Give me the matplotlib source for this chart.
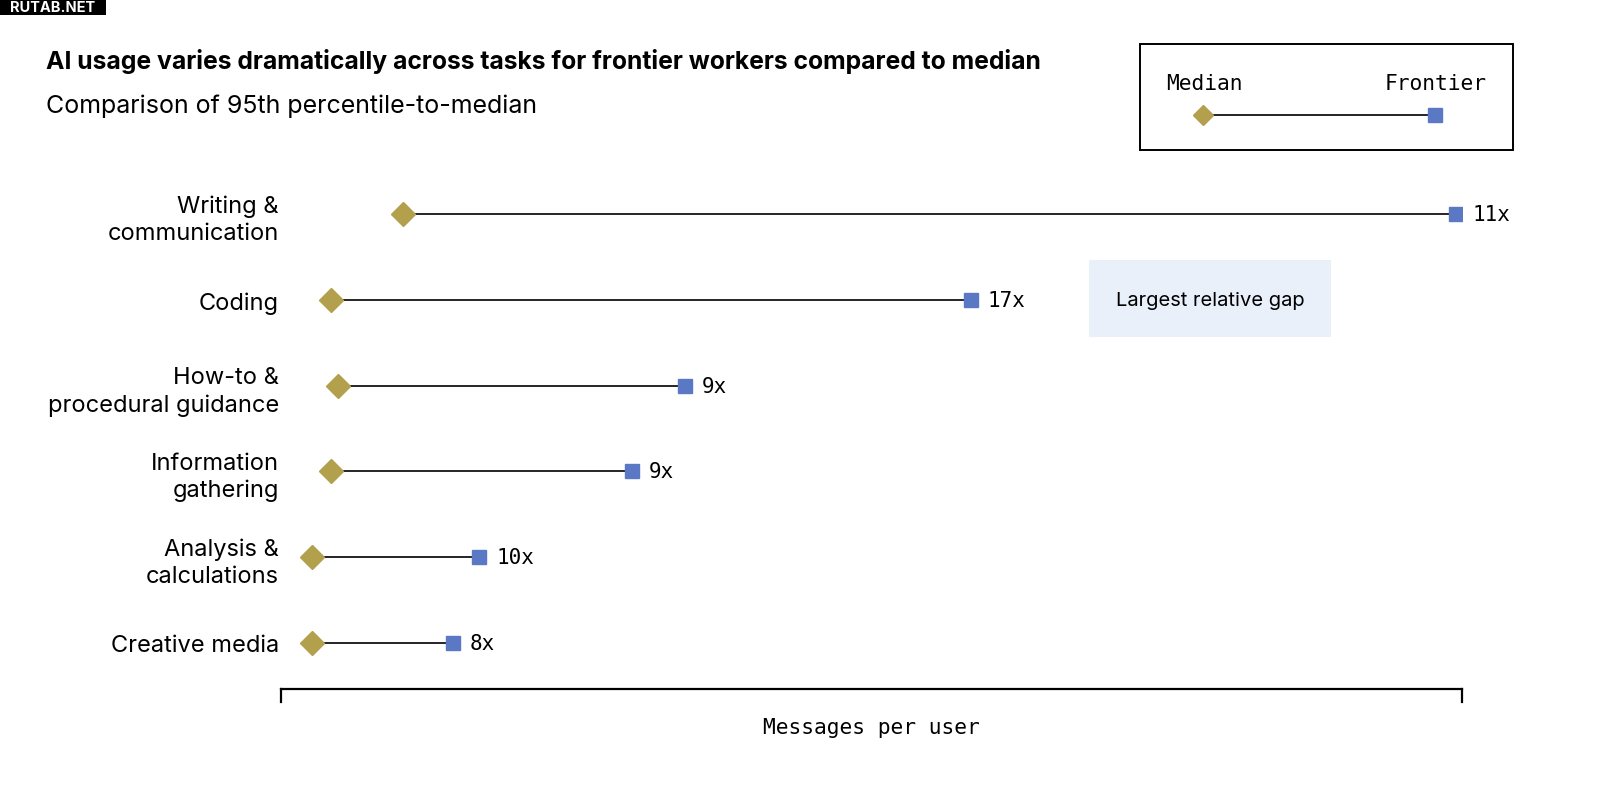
import matplotlib
matplotlib.use("Agg")
import matplotlib.pyplot as plt
from matplotlib.patches import Rectangle

categories = ["Writing &\ncommunication", "Coding", "How-to &\nprocedural guidance",
              "Information\ngathering", "Analysis &\ncalculations", "Creative media"]
median_vals = [10.3, 4.2, 4.8, 4.2, 2.6, 2.6]
frontier_vals = [99.5, 58.4, 34.2, 29.7, 16.8, 14.6]
ratio_labels = ["11x", "17x", "9x", "9x", "10x", "8x"]

GOLD = "#B3A04C"
BLUE = "#5A78C4"
SANS = "Inter"
MONO = "DejaVu Sans Mono"

W, H = 1606, 804
fig = plt.figure(figsize=(W / 100, H / 100), dpi=100)

def fx(px):
    return px / W

def fy(py):
    return 1 - py / H

ax = fig.add_axes([fx(281), fy(690), fx(1462) - fx(281), fy(171) - fy(690)])
ax.set_xlim(0, 100)
n = len(categories)
ys = list(range(n))
row0, rowstep = 215, 85.8
top_px, bot_px = 171, 690
y_top = -(row0 - top_px) / rowstep
y_bot = (bot_px - row0) / rowstep
ax.set_ylim(y_bot, y_top)

for i, (m, f, lab) in enumerate(zip(median_vals, frontier_vals, ratio_labels)):
    ax.plot([m, f], [i, i], color="black", lw=1.2, zorder=1)
    ax.plot([m], [i], marker="D", ms=12.5, color=GOLD, mec=GOLD, zorder=3, linestyle="none")
    ax.plot([f], [i], marker="s", ms=9.5, color=BLUE, mec=BLUE, zorder=3, linestyle="none")
    ax.annotate(lab, (f, i), xytext=(12, 0), textcoords="offset points",
                va="center", ha="left", fontsize=15, family=MONO, color="black")

ax.set_yticks(ys)
ax.set_yticklabels(categories, fontsize=17, family=SANS, linespacing=1.3)
ax.tick_params(axis="y", length=0, pad=1.5)
ax.set_xticks([])
for s in ["top", "right", "left", "bottom"]:
    ax.spines[s].set_visible(False)
ax.patch.set_alpha(0)

# bracket axis
fig.add_artist(plt.Line2D([fx(281), fx(1462)], [fy(690), fy(690)], color="black", lw=1.6,
                          transform=fig.transFigure))
for xp in (281, 1462):
    fig.add_artist(plt.Line2D([fx(xp), fx(xp)], [fy(690), fy(703)], color="black", lw=1.6,
                              transform=fig.transFigure))
fig.text(fx(871), fy(728), "Messages per user", ha="center", va="center",
         fontsize=15.3, family=MONO)

# title and subtitle
fig.text(fx(46), fy(62), "AI usage varies dramatically across tasks for frontier workers compared to median",
         ha="left", va="center", fontsize=17.8, fontweight="bold", family=SANS)
fig.text(fx(46), fy(106), "Comparison of 95th percentile-to-median",
         ha="left", va="center", fontsize=18, family=SANS)

# legend box
fig.add_artist(Rectangle((fx(1140), fy(151)), fx(1513) - fx(1140), fy(45) - fy(151),
                         transform=fig.transFigure, fill=False, ec="black", lw=1.4))
fig.text(fx(1204), fy(84), "Median", ha="center", va="center", fontsize=15.3, family=MONO)
fig.text(fx(1436), fy(84), "Frontier", ha="center", va="center", fontsize=15.3, family=MONO)
fig.add_artist(plt.Line2D([fx(1203), fx(1435)], [fy(116), fy(116)], color="black", lw=1.2,
                          transform=fig.transFigure, zorder=1))
fig.add_artist(plt.Line2D([fx(1203)], [fy(116)], marker="D", ms=10, color=GOLD, mec=GOLD,
                          transform=fig.transFigure, linestyle="none"))
fig.add_artist(plt.Line2D([fx(1435)], [fy(116)], marker="s", ms=9.5, color=BLUE, mec=BLUE,
                          transform=fig.transFigure, linestyle="none"))

# highlight box
fig.add_artist(Rectangle((fx(1089), fy(338)), fx(1331) - fx(1089), fy(261) - fy(338),
                         transform=fig.transFigure, fc="#EAF0FA", ec="none"))
fig.text(fx(1210), fy(301), "Largest relative gap", ha="center", va="center",
         fontsize=14.5, family=SANS)

# watermark
fig.add_artist(Rectangle((0, fy(16)), fx(106), fy(0) - fy(16), transform=fig.transFigure,
                         fc="black", ec="none"))
fig.text(fx(53), fy(8), "RUTAB.NET", ha="center", va="center", fontsize=10.5,
         fontweight="bold", color="white", family=SANS)

fig.savefig("out.png", dpi=100, facecolor="white")
